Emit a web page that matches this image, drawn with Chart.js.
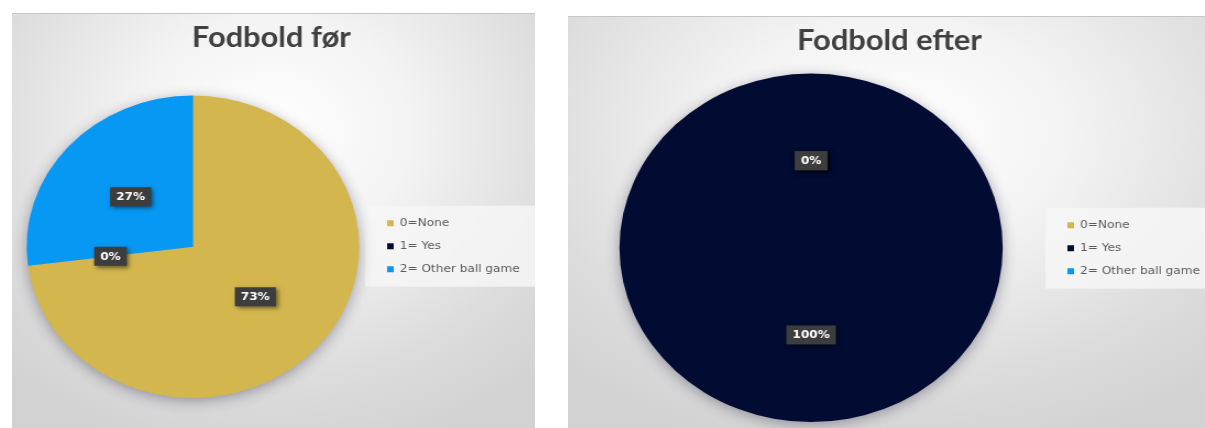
<!DOCTYPE html>
<html>
<head>
<meta charset="utf-8">
<script src="https://cdn.jsdelivr.net/npm/chart.js"></script>
<style>
  body { margin: 0; width: 1205px; height: 428px; overflow: hidden; background: #fff; position: relative; }
  .panel {
    position: absolute; overflow: hidden;
    background: radial-gradient(ellipse 75% 80% at 50% 28%, #ffffff 0%, #f3f3f3 35%, #dcdcdc 75%, #d2d2d2 100%);
    border-top: 1px solid #c6c6c6;
  }
  /* the source picture is stretched sideways, so the canvas is too */
  .panel canvas { position: absolute; left: 0; top: 0; transform: scaleX(1.1); transform-origin: 0 0; }
</style>
</head>
<body>
<div class="panel" style="left:12px; top:13px; width:523px; height:416px;">
  <canvas id="before" width="475" height="416" style="width:475px;height:416px"></canvas>
</div>
<div class="panel" style="left:568px; top:16px; width:656px; height:413px;">
  <canvas id="after" width="596" height="413" style="width:596px;height:413px"></canvas>
</div>

<script>
const categories = ['0=None', '1= Yes', '2= Other ball game'];
const percentBefore = [73, 0, 27];
const percentAfter = [0, 100, 0];
const titleBefore = 'Fodbold før';
const titleAfter = 'Fodbold efter';
const sliceColors = ['#D3B64E', '#020C33', '#0798F4'];

Chart.defaults.font.family = '"DejaVu Sans", sans-serif';

// soft halo under the whole pie
const pieShadow = {
  id: 'pieShadow',
  beforeDatasetsDraw(chart) {
    const arc = chart.getDatasetMeta(0).data[0];
    const ctx = chart.ctx;
    ctx.save();
    ctx.shadowColor = 'rgba(40,40,70,0.45)';
    ctx.shadowBlur = 14;
    ctx.shadowOffsetY = 3;
    ctx.fillStyle = '#9a9a9a';
    ctx.beginPath();
    ctx.arc(arc.x, arc.y, arc.outerRadius - 1, 0, Math.PI * 2);
    ctx.fill();
    ctx.restore();
  }
};

// pale box behind the legend
const legendBack = {
  id: 'legendBack',
  beforeDraw(chart) {
    const boxes = chart.legend.legendHitBoxes;
    if (!boxes || !boxes.length) return;
    const ctx = chart.ctx;
    const top = boxes[0].top - 12;
    const bottom = boxes[boxes.length - 1].top + boxes[boxes.length - 1].height + 12;
    ctx.save();
    ctx.fillStyle = 'rgba(246,246,246,0.85)';
    ctx.fillRect(chart.legend.left - 8, top, chart.width - chart.legend.left + 8, bottom - top);
    ctx.restore();
  }
};

// dark callout boxes with the percentages
const valueBoxes = {
  id: 'valueBoxes',
  afterDatasetsDraw(chart) {
    const ctx = chart.ctx;
    const meta = chart.getDatasetMeta(0);
    const values = chart.data.datasets[0].data;
    const total = values.reduce((a, b) => a + b, 0);
    ctx.save();
    ctx.font = 'bold 11px "DejaVu Sans"';
    ctx.textAlign = 'center';
    ctx.textBaseline = 'middle';
    meta.data.forEach((arc, i) => {
      const p = arc.getCenterPoint();
      const txt = Math.round(values[i] / total * 100) + '%';
      const w = ctx.measureText(txt).width + 11;
      const h = 19;
      ctx.shadowColor = 'rgba(0,0,0,0.5)';
      ctx.shadowBlur = 4;
      ctx.shadowOffsetX = 2;
      ctx.shadowOffsetY = 2;
      ctx.fillStyle = '#3d3d3d';
      ctx.fillRect(p.x - w / 2, p.y - h / 2, w, h);
      ctx.shadowColor = 'transparent';
      ctx.fillStyle = '#ffffff';
      ctx.fillText(txt, p.x, p.y + 0.5);
    });
    ctx.restore();
  }
};

function makePie(id, title, values, titleGap, bottomPad, legendLeft, legendDrop) {
  const canvas = document.getElementById(id);
  const chart = new Chart(canvas.getContext('2d'), {
    type: 'pie',
    data: {
      labels: categories,
      datasets: [{
        data: values,
        backgroundColor: sliceColors,
        borderWidth: 0
      }]
    },
    options: {
      responsive: false,
      animation: false,
      events: [],
      layout: { padding: { left: 0, right: 0, top: 0, bottom: bottomPad } },
      plugins: {
        title: {
          display: true,
          text: title,
          color: '#404040',
          font: { family: 'Lato', size: 28, weight: 'bold' },
          padding: { top: 7, bottom: titleGap }
        },
        legend: {
          position: 'right',
          // empty legend title only used as a spacer to move the items down
          title: { display: true, text: '', padding: { top: legendDrop, bottom: 0 } },
          labels: {
            boxWidth: 6,
            boxHeight: 6,
            padding: 12,
            color: '#595959',
            font: { size: 11 }
          }
        },
        tooltip: { enabled: false }
      }
    },
    plugins: [legendBack, pieShadow, valueBoxes]
  });
  // push the legend so it starts where the picture has it; the pie sits centred left of it
  const pad = chart.config.options.layout.padding;
  pad.right = canvas.width - legendLeft - chart.legend.width;
  chart.update();
  return chart;
}

makePie('before', titleBefore, percentBefore, 41, 32, 329, 66);
makePie('after', titleAfter, percentAfter, 16, 8, 442, 43);
</script>
</body>
</html>
